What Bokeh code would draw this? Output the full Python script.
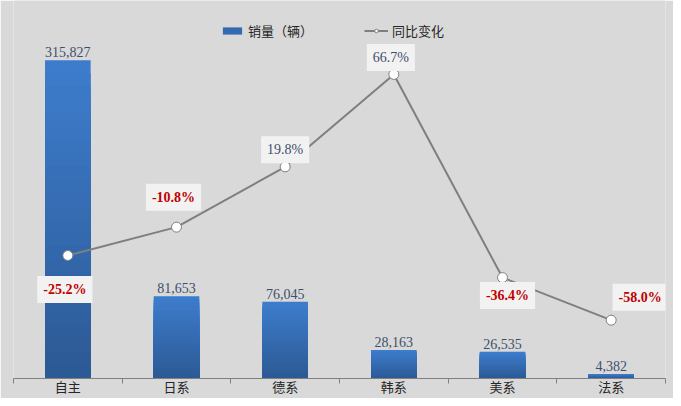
from bokeh.plotting import figure
from bokeh.models import (Range1d, FixedTicker, Label, LabelSet, ColumnDataSource,
                          Legend, LegendItem)
from bokeh.core.properties import value
from bokeh.embed import file_html
from bokeh.resources import INLINE

# ---- data ----
categories = ["自主", "日系", "德系", "韩系", "美系", "法系"]
sales = [315827, 81653, 76045, 28163, 26535, 4382]
yoy = [-25.2, -10.8, 19.8, 66.7, -36.4, -58.0]
sales_name = "销量（辆）"
yoy_name = "同比变化"

# ---- styling ----
BG = "#d9d9d9"
CJK = "Noto Sans CJK SC"
SERIF = "Liberation Serif"
TOP_C = (0x3d, 0x7d, 0xcd)
BOT_C = (0x2c, 0x59, 0x94)

n = len(categories)
xc = list(range(n))

p = figure(width=673, height=398, x_range=Range1d(-0.5, n - 0.5),
           y_range=Range1d(0, 375000), output_backend="svg", toolbar_location=None,
           y_axis_location=None, min_border_left=13, min_border_right=8,
           min_border_top=0, min_border_bottom=0,
           background_fill_color=BG, border_fill_color=BG, outline_line_color=None)
p.extra_y_ranges = {"pct": Range1d(-87.6, 104.2)}
p.grid.visible = False

xa = p.xaxis[0]
xa.ticker = FixedTicker(ticks=xc, minor_ticks=[i - 0.5 for i in range(n + 1)])
xa.major_label_overrides = {i: c for i, c in zip(xc, categories)}
xa.major_tick_line_color = None
xa.major_tick_in = 0
xa.major_tick_out = 0
xa.minor_tick_in = 0
xa.minor_tick_out = 5
xa.minor_tick_line_color = "#808080"
xa.axis_line_color = "#808080"
xa.major_label_text_font = CJK
xa.major_label_text_font_size = "13px"
xa.major_label_text_color = "#262626"
xa.major_label_standoff = -7

# ---- bars: overlapping layers imitate the vertical gradient ----
N = 24
bar_renderers = []
for k in range(N):
    frac = (N - k) / N
    t = (N - k - 0.5) / N
    col = "#%02x%02x%02x" % tuple(int(round(b + (a - b) * t)) for a, b in zip(TOP_C, BOT_C))
    src = ColumnDataSource(dict(x=xc, top=[v * frac for v in sales]))
    r = p.vbar(x="x", bottom=0, top="top", width=0.42, source=src,
               fill_color=col, line_color=None)
    bar_renderers.append(r)

# bar value labels
bsrc = ColumnDataSource(dict(x=xc, y=sales, t=[f"{v:,}" for v in sales]))
p.add_layout(LabelSet(x="x", y="y", text="t", source=bsrc, y_offset=3,
                      text_align="center", text_baseline="bottom",
                      text_font=value(SERIF), text_font_size="14px",
                      text_color="#3e4f6c"))

# ---- line ----
lsrc = ColumnDataSource(dict(x=xc, y=yoy))
line_r = p.line("x", "y", source=lsrc, y_range_name="pct",
                line_color="#7f7f7f", line_width=2)
circ_r = p.scatter("x", "y", source=lsrc, y_range_name="pct", size=10,
                   fill_color="white", line_color="#7f7f7f", line_width=1)

# percentage labels, each placed around its point (screen offsets)
label_offsets = [(-3, -34), (-3, 30), (0, 17), (-3, 17), (5, -18), (29, 23)]
for xi, v, (dx, dy) in zip(xc, yoy, label_offsets):
    neg = v < 0
    p.add_layout(Label(x=xi, y=v, y_range_name="pct", x_offset=dx, y_offset=dy,
                       text=f"{v:.1f}%", text_align="center", text_baseline="middle",
                       text_font=SERIF, text_font_size="14px",
                       text_font_style="bold" if neg else "normal",
                       text_color="#c00000" if neg else "#3e4f6c",
                       background_fill_color="#f2f2f2", padding=6))

# ---- legend ----
legend = Legend(items=[LegendItem(label=sales_name, renderers=[bar_renderers[N // 2]]),
                       LegendItem(label=yoy_name, renderers=[line_r, circ_r])],
                orientation="horizontal", location=(207, 338),
                background_fill_alpha=0, border_line_color=None,
                label_text_font=CJK, label_text_font_size="13px",
                label_text_color="#262626", glyph_width=24, glyph_height=9,
                label_height=14, label_standoff=4, spacing=51, padding=0, margin=0)
p.add_layout(legend)

open("out.html", "w").write(file_html(p, INLINE))
